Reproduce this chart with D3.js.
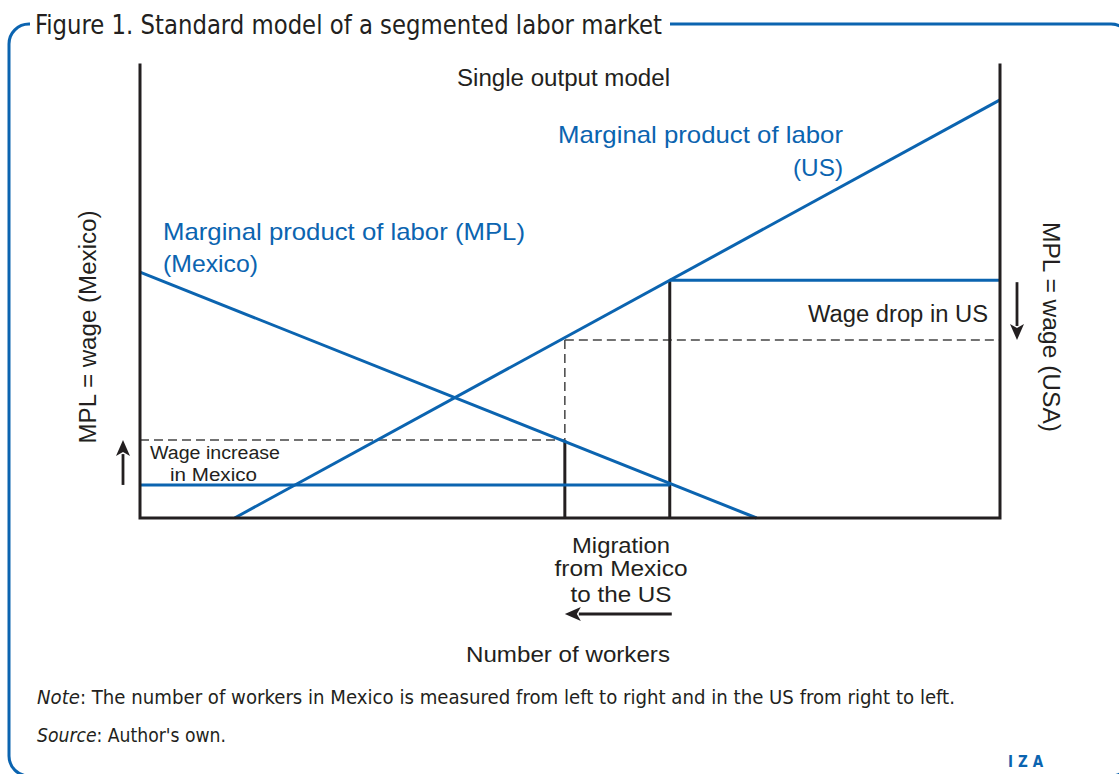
<!DOCTYPE html>
<html>
<head>
<meta charset="utf-8">
<script src="https://cdn.jsdelivr.net/npm/d3@7"></script>
<style>
  html, body { margin: 0; padding: 0; background: #fff; }
  svg { display: block; }
</style>
</head>
<body>
<div id="chart"></div>
<script>
// conceptual model: x = number of workers (0..100), y = wage (0..100)
var mplMexico = [{ x: 0, y: 54.3 }, { x: 71.7, y: 0 }];
var mplUS = [{ x: 11.0, y: 0 }, { x: 100, y: 92.3 }];
var workersBefore = 61.6;   // split of workers before migration
var workersAfter = 49.4;    // split of workers after migration
var wageUSBefore = 52.5;
var wageUSAfter = 39.3;
var wageMexBefore = 7.3;
var wageMexAfter = 17.2;

var blue = "#0b64b0";
var ink = "#231f20";

var W = 1119, H = 774;
var svg = d3.select("#chart").append("svg")
  .attr("width", W)
  .attr("height", H);

var x = d3.scaleLinear().domain([0, 100]).range([140, 1000]);
var y = d3.scaleLinear().domain([0, 100]).range([518, 65]);

// frame
svg.append("rect")
  .attr("x", 9).attr("y", 24)
  .attr("width", 1122).attr("height", 752)
  .attr("rx", 20).attr("ry", 20)
  .attr("fill", "none")
  .attr("stroke", blue)
  .attr("stroke-width", 3);
svg.append("rect")
  .attr("x", 30).attr("y", 10)
  .attr("width", 640).attr("height", 30)
  .attr("fill", "#fff");

// fit a text element to a given width
function fit(sel, w) {
  sel.attr("textLength", w).attr("lengthAdjust", "spacingAndGlyphs");
  return sel;
}

var narrow = "'Liberation Sans Narrow', 'DejaVu Sans Condensed', Arial, sans-serif";

fit(svg.append("text")
  .attr("x", 35).attr("y", 34)
  .attr("font-family", narrow)
  .attr("font-size", 27)
  .attr("fill", ink)
  .text("Figure 1. Standard model of a segmented labor market"), 627);

var g = svg.append("g");

function line(x1, y1, x2, y2, color, width, dash) {
  g.append("line")
    .attr("x1", x1).attr("y1", y1).attr("x2", x2).attr("y2", y2)
    .attr("stroke", color)
    .attr("stroke-width", width)
    .attr("stroke-dasharray", dash || null);
}

// dashed guides
line(x(0), y(wageMexAfter), x(workersAfter), y(wageMexAfter), "#444", 1.5, "9,5");
line(x(workersAfter), y(wageUSAfter), x(100), y(wageUSAfter), "#444", 1.5, "9,5");
line(x(workersAfter), y(wageUSAfter), x(workersAfter), y(wageMexAfter), "#444", 1.5, "9,5");

// solid verticals
line(x(workersAfter), y(wageMexAfter), x(workersAfter), y(0), ink, 3);
line(x(workersBefore), y(wageUSBefore), x(workersBefore), y(0), ink, 3);

// wage levels before migration
line(x(0), y(wageMexBefore), x(workersBefore), y(wageMexBefore), blue, 3);
line(x(workersBefore), y(wageUSBefore), x(100), y(wageUSBefore), blue, 3);

// MPL curves
var path = d3.line().x(function (d) { return x(d.x); }).y(function (d) { return y(d.y); });
g.append("path").datum(mplMexico).attr("d", path)
  .attr("fill", "none").attr("stroke", blue).attr("stroke-width", 3);
g.append("path").datum(mplUS).attr("d", path)
  .attr("fill", "none").attr("stroke", blue).attr("stroke-width", 3);

// axes (box without top)
g.append("path")
  .attr("d", "M" + x(0) + "," + y(100) + "V" + y(0) + "H" + x(100) + "V" + y(100))
  .attr("fill", "none")
  .attr("stroke", ink)
  .attr("stroke-width", 3)
  .attr("stroke-linejoin", "miter")
  .attr("stroke-linecap", "square");

// arrows
function arrow(x1, y1, x2, y2) {
  var ang = Math.atan2(y2 - y1, x2 - x1);
  var len = 16, half = 7;
  var bx = x2 - len * Math.cos(ang), by = y2 - len * Math.sin(ang);
  line(x1, y1, bx + 2 * Math.cos(ang), by + 2 * Math.sin(ang), ink, 2.8);
  var px = -Math.sin(ang) * half, py = Math.cos(ang) * half;
  g.append("path")
    .attr("d", "M" + x2 + "," + y2 + "L" + (bx + px) + "," + (by + py) +
      "L" + (bx + 4 * Math.cos(ang)) + "," + (by + 4 * Math.sin(ang)) +
      "L" + (bx - px) + "," + (by - py) + "Z")
    .attr("fill", ink);
}
arrow(123, y(wageMexBefore), 123, y(wageMexAfter));
arrow(1017, y(wageUSBefore) + 2, 1017, y(wageUSAfter));
arrow(x(workersBefore) + 2, 614, x(workersAfter), 614);

// labels
var sans = "'Liberation Sans', Arial, sans-serif";
function label(tx, ty, txt, opts) {
  var t = svg.append("text")
    .attr("x", tx).attr("y", ty)
    .attr("font-family", opts.family || sans)
    .attr("font-size", opts.size || 22)
    .attr("fill", opts.color || ink)
    .attr("text-anchor", opts.anchor || "start")
    .text(txt);
  if (opts.rotate) {
    t.attr("x", 0).attr("y", 0)
      .attr("transform", "translate(" + tx + "," + ty + ") rotate(" + opts.rotate + ")");
  }
  if (opts.w) fit(t, opts.w);
  return t;
}

label(457, 86, "Single output model", { size: 23, w: 213 });
label(843, 143, "Marginal product of labor", { size: 24, color: blue, anchor: "end", w: 285 });
label(843, 176, "(US)", { size: 24, color: blue, anchor: "end", w: 50 });
label(163, 240, "Marginal product of labor (MPL)", { size: 24, color: blue, w: 362 });
label(163, 272, "(Mexico)", { size: 24, color: blue, w: 95 });
label(96, 327, "MPL = wage (Mexico)", { size: 23, anchor: "middle", rotate: -90, w: 233 });
label(1043, 327, "MPL = wage (USA)", { size: 23, anchor: "middle", rotate: 90, w: 210 });
label(988, 322, "Wage drop in US", { size: 23, anchor: "end", w: 180 });
label(150, 459, "Wage increase", { size: 18, w: 130 });
label(170, 481, "in Mexico", { size: 18, w: 87 });
label(621, 553, "Migration", { size: 22, anchor: "middle", w: 98 });
label(621, 576, "from Mexico", { size: 22, anchor: "middle", w: 133 });
label(621, 602, "to the US", { size: 22, anchor: "middle", w: 101 });
label(568, 662, "Number of workers", { size: 22, anchor: "middle", w: 204 });

// note and source
var note = svg.append("text")
  .attr("x", 37).attr("y", 704)
  .attr("font-family", narrow)
  .attr("font-size", 20)
  .attr("fill", ink);
note.append("tspan").attr("font-style", "italic").text("Note");
note.append("tspan").text(": The number of workers in Mexico is measured from left to right and in the US from right to left.");
fit(note, 918);

var src = svg.append("text")
  .attr("x", 37).attr("y", 742)
  .attr("font-family", narrow)
  .attr("font-size", 20)
  .attr("fill", ink);
src.append("tspan").attr("font-style", "italic").text("Source");
src.append("tspan").text(": Author's own.");
fit(src, 189);

svg.append("text")
  .attr("x", 1008).attr("y", 767)
  .attr("font-family", narrow)
  .attr("font-size", 15)
  .attr("font-weight", "bold")
  .attr("fill", blue)
  .attr("letter-spacing", 5)
  .text("IZA");
</script>
</body>
</html>
